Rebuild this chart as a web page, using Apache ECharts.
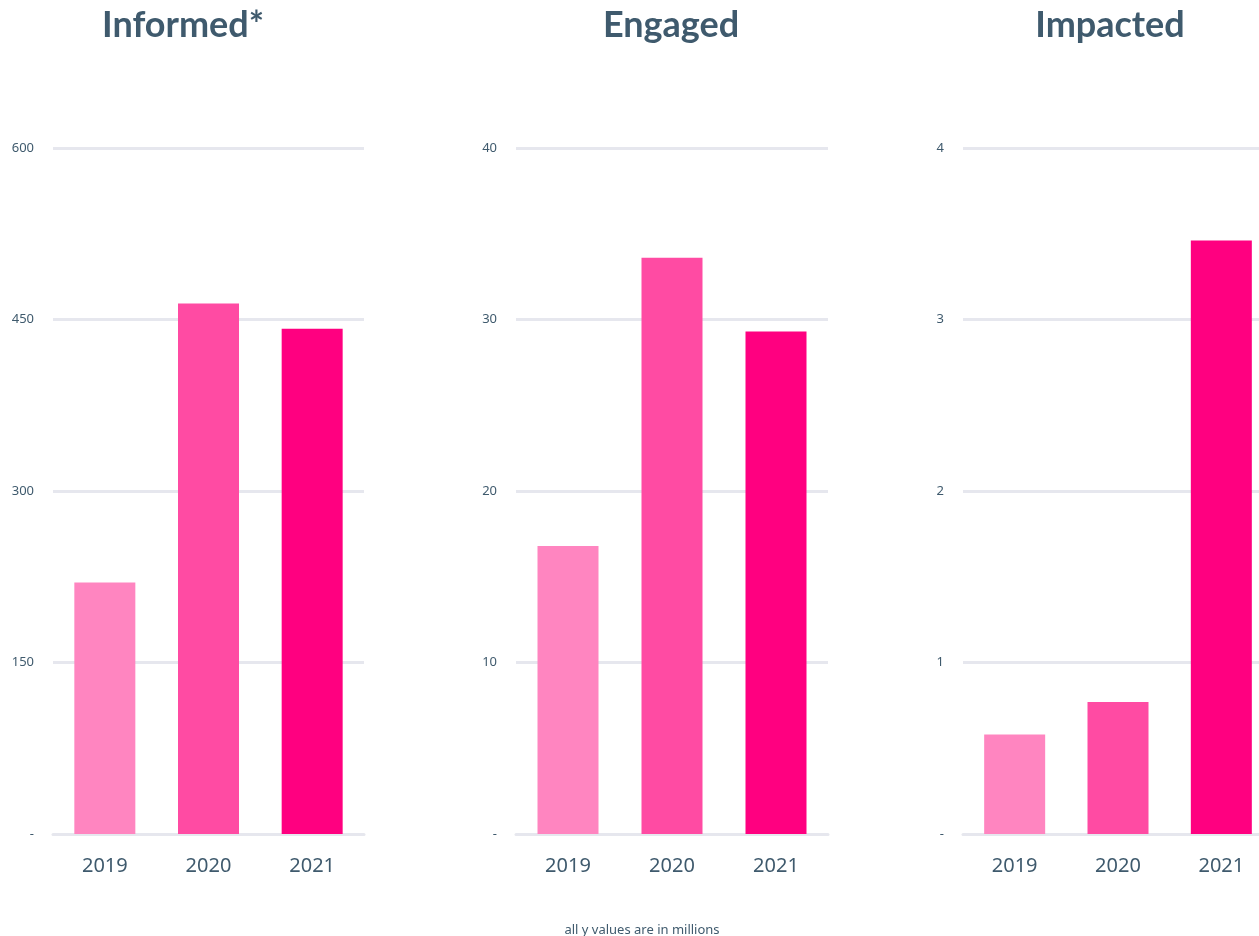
<!DOCTYPE html>
<html>
<head>
  <meta charset="utf-8" />
  <title>Informed / Engaged / Impacted</title>
  <style type="text/css">
    body { margin: 0; background: #fff; overflow: hidden; }
    #main { width: 1290px; height: 936px; }
  </style>
</head>
<body>
  <div id="main"></div>
  <script src="https://cdn.jsdelivr.net/npm/echarts@6/dist/echarts.min.js"></script>
  <script>
    var years = ['2019', '2020', '2021'];
    var panelTitles = ['Informed*', 'Engaged', 'Impacted'];
    var informed = [220, 464, 442];
    var engaged = [16.8, 33.6, 29.3];
    var impacted = [0.58, 0.77, 3.46];
    var axisMax = [600, 40, 4];
    var axisStep = [150, 10, 1];

    var barColors = ['#ff85c0', '#ff4ba3', '#ff0080'];
    var textColor = '#3f5a6d';
    var gridLine = '#e6e7ee';

    // pixel layout of the three panels (the last one runs off the right edge)
    var panels = [
      { left: 53, width: 311, titleX: 178 },
      { left: 516, width: 312, titleX: 666 },
      { left: 963, width: 310, titleX: 1105 }
    ];
    var allValues = [informed, engaged, impacted];

    var myChart = echarts.init(document.getElementById('main'));

    var grids = [], xAxes = [], yAxes = [], series = [], titles = [];
    panels.forEach(function (p, i) {
      grids.push({ left: p.left, width: p.width, top: 148, height: 686 });
      titles.push({
        text: panelTitles[i],
        left: p.titleX,
        top: 2,
        textAlign: 'center',
        textStyle: { color: textColor, fontSize: 36, fontWeight: 'bold', fontFamily: 'Lato' }
      });
      xAxes.push({
        type: 'category',
        gridIndex: i,
        data: years,
        axisTick: { show: false },
        axisLine: { lineStyle: { color: gridLine, width: 3 } },
        axisLabel: { color: textColor, fontSize: 20, margin: 22, fontFamily: 'Noto Sans' }
      });
      yAxes.push({
        type: 'value',
        gridIndex: i,
        min: 0,
        max: axisMax[i],
        interval: axisStep[i],
        axisLine: { show: false },
        axisTick: { show: false },
        splitLine: { lineStyle: { color: gridLine, width: 3 } },
        axisLabel: {
          color: textColor,
          fontSize: 13,
          margin: 19,
          fontFamily: 'Noto Sans',
          formatter: function (v) { return v === 0 ? '-' : v; }
        }
      });
      series.push({
        type: 'bar',
        xAxisIndex: i,
        yAxisIndex: i,
        barWidth: 61,
        data: allValues[i].map(function (v, k) {
          return { value: v, itemStyle: { color: barColors[k] } };
        })
      });
    });

    titles.push({
      text: 'all y values are in millions',
      left: 637,
      top: 919,
      textAlign: 'center',
      textStyle: { color: textColor, fontSize: 13, fontWeight: 'normal', fontFamily: 'Noto Sans' }
    });

    myChart.setOption({
      animation: false,
      title: titles,
      grid: grids,
      xAxis: xAxes,
      yAxis: yAxes,
      series: series
    });
  </script>
</body>
</html>
